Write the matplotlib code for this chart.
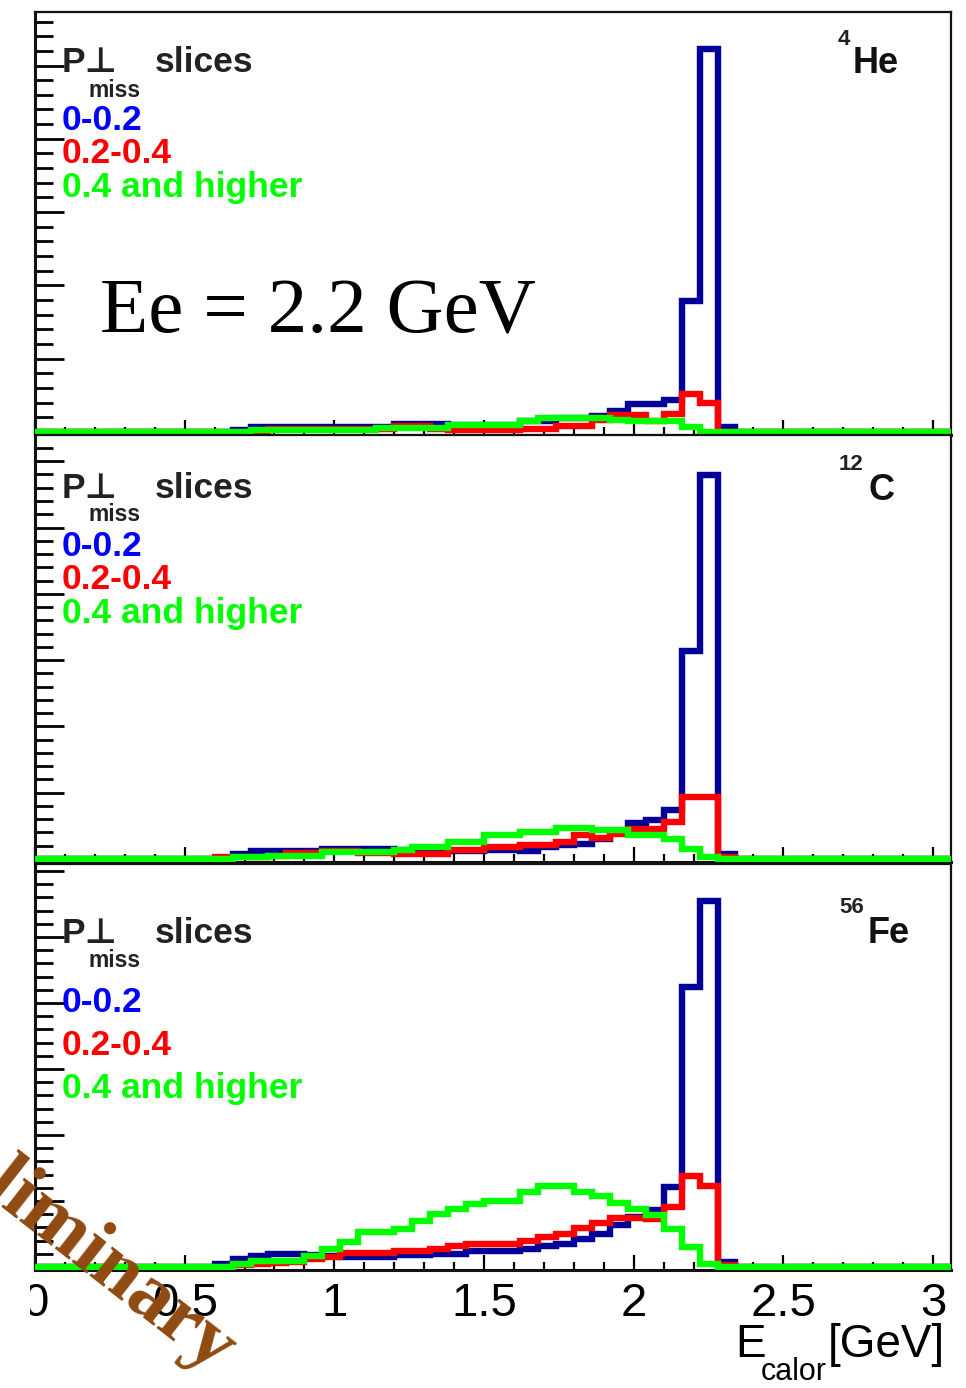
import numpy as np
import matplotlib
matplotlib.use("Agg")
import matplotlib.pyplot as plt
from matplotlib import font_manager
from matplotlib.ticker import MultipleLocator, AutoMinorLocator
from matplotlib.transforms import Bbox

# ---- Binning: E_calor in 60 MeV bins from 0 to 3.06 GeV
BIN_WIDTH = 0.06
N_BINS = 51
edges = np.arange(N_BINS + 1) * BIN_WIDTH

# ---- Counts per bin (arb. units), one list per p_miss slice
# 4He
he_low = [0, 0, 0, 0, 0, 0, 0, 0, 0, 0, 0, 2, 5, 5, 5, 5, 5, 5, 5, 5,
          8, 8, 8, 7, 7, 7, 7, 11, 11, 14, 14, 16, 21, 28, 28, 32, 131, 383, 5, 0,
          0, 0, 0, 0, 0, 0, 0, 0, 0, 0, 0]
he_mid = [0, 0, 0, 0, 0, 0, 0, 0, 0, 0, 0, 0, 0, 3, 3, 3, 3, 3, 3, 3,
          6, 6, 3, 2, 2, 2, 2, 3, 3, 6, 6, 12, 17, 17, 11, 18, 38, 29, 0, 0,
          0, 0, 0, 0, 0, 0, 0, 0, 0, 0, 0]
he_high = [0, 0, 0, 0, 0, 0, 0, 0, 0, 0, 0, 0, 2, 2, 2, 2, 2, 2, 2, 4,
           4, 4, 4, 7, 7, 7, 7, 11, 14, 14, 14, 14, 12, 11, 11, 11, 5, 0, 0, 0,
           0, 0, 0, 0, 0, 0, 0, 0, 0, 0, 0]
# 12C
c_low = [0, 0, 0, 0, 0, 0, 0, 0, 0, 0, 0, 5, 8, 8, 8, 8, 10, 10, 10, 10,
         9, 9, 8, 8, 8, 9, 9, 8, 12, 14, 15, 20, 28, 36, 39, 49, 208, 384, 5, 0,
         0, 0, 0, 0, 0, 0, 0, 0, 0, 0, 0]
c_mid = [0, 0, 0, 0, 0, 0, 0, 0, 0, 0, 2, 2, 2, 3, 6, 6, 8, 8, 6, 6,
         5, 5, 5, 9, 9, 12, 12, 14, 14, 17, 24, 21, 25, 30, 30, 37, 62, 62, 2, 0,
         0, 0, 0, 0, 0, 0, 0, 0, 0, 0, 0]
c_high = [0, 0, 0, 0, 0, 0, 0, 0, 0, 0, 0, 2, 2, 3, 3, 3, 7, 7, 7, 7,
          9, 12, 12, 17, 17, 24, 24, 27, 27, 31, 31, 29, 29, 24, 24, 20, 10, 2, 0, 0,
          0, 0, 0, 0, 0, 0, 0, 0, 0, 0, 0]
# 56Fe
fe_low = [0, 0, 0, 0, 0, 0, 0, 0, 0, 0, 3, 8, 11, 13, 13, 12, 11, 10, 10, 10,
          12, 12, 13, 13, 16, 16, 16, 18, 21, 23, 28, 33, 42, 50, 57, 80, 280, 366, 5, 0,
          0, 0, 0, 0, 0, 0, 0, 0, 0, 0, 0]
fe_mid = [0, 0, 0, 0, 0, 0, 0, 0, 0, 0, 0, 2, 3, 4, 5, 8, 10, 14, 14, 14,
          16, 16, 18, 21, 23, 23, 23, 26, 30, 33, 39, 44, 49, 49, 48, 60, 91, 81, 2, 0,
          0, 0, 0, 0, 0, 0, 0, 0, 0, 0, 0]
fe_high = [0, 0, 0, 0, 0, 0, 0, 0, 0, 0, 0, 3, 6, 6, 6, 11, 18, 25, 35, 35,
           38, 46, 53, 58, 63, 66, 66, 75, 81, 81, 75, 71, 64, 58, 52, 38, 20, 3, 0, 0,
           0, 0, 0, 0, 0, 0, 0, 0, 0, 0, 0]

slice_labels = ["0-0.2", "0.2-0.4", "0.4 and higher"]
nuclei = [("4", "He"), ("12", "C"), ("56", "Fe")]
x_ticks = [0, 0.5, 1, 1.5, 2, 2.5, 3]
x_tick_labels = ["0", "0.5", "1", "1.5", "2", "2.5", "3"]

LINE_COLORS = ["#000099", "#ff0000", "#00ff00"]
TEXT_COLORS = ["#0000ff", "#ff0000", "#00ff00"]

W, H, DPI = 966, 1388, 100
installed = {f.name for f in font_manager.fontManager.ttflist}
NARROW = "Liberation Sans Narrow" if "Liberation Sans Narrow" in installed else "Liberation Sans"
AXIS_SIZE = 37 if NARROW == "Liberation Sans Narrow" else 34
SANS = ["Liberation Sans", "DejaVu Sans"]


def fxy(x, y):
    """pixel position (from top-left) -> figure fraction"""
    return x / W, 1 - y / H


# panel layout in pixels: (top, bottom, y major tick step)
layout = [(12, 435, 73.3), (435, 862, 66.3), (864, 1270, 66.0)]
# text baselines per panel: title, subscript, three slice rows, isotope sup, isotope, isotope x
text_rows = [
    (72, 97, [130, 163, 197], 45, 73, 853),
    (498, 521, [556, 589, 623], 470, 500, 868),
    (943, 967, [1012, 1055, 1098], 913, 943, 868),
]
hists = [(he_low, he_mid, he_high), (c_low, c_mid, c_high), (fe_low, fe_mid, fe_high)]

fig = plt.figure(figsize=(W / DPI, H / DPI), dpi=DPI)
left, right = 35, 951

axes = []
for i, ((top, bot, ystep), series) in enumerate(zip(layout, hists)):
    ax = fig.add_axes([left / W, 1 - bot / H, (right - left) / W, (bot - top) / H])
    for vals, col in zip(series, LINE_COLORS):
        ax.stairs(vals, edges, color=col, linewidth=4.6, baseline=None, zorder=3)
    ymax = (bot - top) - 3
    ax.set_xlim(0, edges[-1])
    ax.set_ylim(-3, ymax)

    ax.xaxis.set_major_locator(MultipleLocator(0.5))
    ax.xaxis.set_minor_locator(MultipleLocator(0.1))
    ax.yaxis.set_major_locator(MultipleLocator(ystep))
    ax.yaxis.set_minor_locator(AutoMinorLocator(5))
    ax.tick_params(axis="x", which="major", direction="in", length=11, width=1.6)
    ax.tick_params(axis="x", which="minor", direction="in", length=6, width=1.6)
    ax.tick_params(axis="y", which="major", direction="in", length=21, width=2)
    ax.tick_params(axis="y", which="minor", direction="in", length=13, width=2)
    ax.tick_params(labelleft=False, labelbottom=False)
    for side, sp in ax.spines.items():
        sp.set_color("#111111")
        sp.set_linewidth(2.2 if side in ("left", "bottom") else 1.6)
    axes.append(ax)

# x tick labels on the bottom panel only
ax = axes[-1]
ax.set_xticks(x_ticks, x_tick_labels)
ax.tick_params(labelbottom=True, pad=9)
for lab in ax.get_xticklabels():
    lab.set_fontsize(AXIS_SIZE)
    lab.set_family(NARROW)
ax.get_xticklabels()[0].set_clip_box(Bbox.from_extents(30, 0, W, H))
ax.get_xticklabels()[0].set_clip_on(True)

# axis title E_calor [GeV]
fig.text(*fxy(735, 1357), "E", fontsize=AXIS_SIZE - 1, family=NARROW)
fig.text(*fxy(761, 1380), "calor", fontsize=22, family=NARROW)
fig.text(*fxy(828, 1357), "[GeV]", fontsize=AXIS_SIZE - 1, family=NARROW)

# in-panel labels
for (t_y, s_y, rows, sup_y, iso_y, iso_x), (sup, iso) in zip(text_rows, nuclei):
    fig.text(*fxy(62, t_y), "P\u22a5", fontsize=25.5, fontweight="bold", family=SANS, color="#222222")
    fig.text(*fxy(155, t_y), "slices", fontsize=25.5, fontweight="bold", family=SANS, color="#222222")
    fig.text(*fxy(88, s_y), "miss", fontsize=16.5, fontweight="bold", family=SANS, color="#222222")
    for y, lab, col in zip(rows, slice_labels, TEXT_COLORS):
        fig.text(*fxy(62, y), lab, fontsize=25.5, fontweight="bold", family=SANS, color=col)
    fig.text(*fxy(iso_x - 14 * len(sup) - 1, sup_y), sup, fontsize=16, fontweight="bold", family=SANS, color="#222222")
    fig.text(*fxy(iso_x, iso_y), iso, fontsize=26, fontweight="bold", family=SANS, color="#111111")

fig.text(*fxy(100, 332), "Ee = 2.2 GeV", fontsize=57, family="Liberation Serif", color="black")

# watermark across the lower-left corner
fig.text(*fxy(-112, 1120), "Preliminary", fontsize=58, fontweight="bold", family="Liberation Serif",
         color="#8f4a10", rotation=-38, rotation_mode="anchor", ha="left", va="baseline", zorder=10)

fig.savefig("out.png", dpi=DPI)
